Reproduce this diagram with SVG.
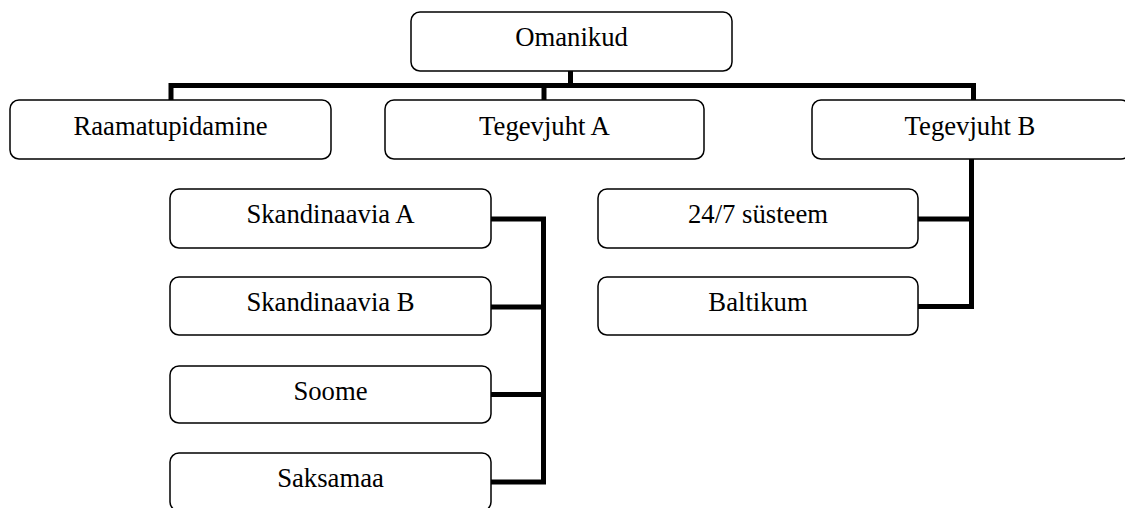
<svg xmlns="http://www.w3.org/2000/svg" width="1125" height="508" viewBox="0 0 1125 508">
<style>
.box{fill:#fff;stroke:#000;stroke-width:1.5}
.lbl{font-family:"Liberation Serif","Times New Roman",serif;font-size:26.7px;fill:#000;text-anchor:middle}
.con{fill:none;stroke:#000;stroke-width:5;stroke-linejoin:miter;stroke-linecap:butt}
</style>
<rect width="1125" height="508" fill="#fff"/>
<g id="connectors">
<path class="con" d="M570.5 71V85.5"/>
<path class="con" d="M171 100V85.5H973.5V100"/>
<path class="con" d="M544 85.5V100"/>
<path class="con" d="M491 219H543.5V482H491"/>
<path class="con" d="M491 307H543.5"/>
<path class="con" d="M491 394.5H543.5"/>
<path class="con" d="M971.5 159V306.5H918"/>
<path class="con" d="M918 219H971.5"/>
</g>
<g id="omanikud"><rect class="box" x="411" y="12" width="321" height="59" rx="9"/><text class="lbl" x="571.5" y="45.5">Omanikud</text></g>
<g id="raamatupidamine"><rect class="box" x="10" y="100" width="321" height="59" rx="9"/><text class="lbl" x="170.5" y="134.5">Raamatupidamine</text></g>
<g id="tegevjuht-a"><rect class="box" x="385" y="100" width="319" height="59" rx="9"/><text class="lbl" x="544.5" y="134.5">Tegevjuht A</text></g>
<g id="tegevjuht-b"><rect class="box" x="812" y="100" width="318" height="59" rx="9"/><text class="lbl" x="970" y="134.5">Tegevjuht B</text></g>
<g id="skandinaavia-a"><rect class="box" x="170" y="189" width="321" height="59" rx="9"/><text class="lbl" x="330.5" y="223">Skandinaavia A</text></g>
<g id="skandinaavia-b"><rect class="box" x="170" y="277" width="321" height="58" rx="9"/><text class="lbl" x="330.5" y="311">Skandinaavia B</text></g>
<g id="soome"><rect class="box" x="170" y="366" width="321" height="57" rx="9"/><text class="lbl" x="330.5" y="399.5">Soome</text></g>
<g id="saksamaa"><rect class="box" x="170" y="453" width="321" height="58" rx="9"/><text class="lbl" x="330.5" y="487">Saksamaa</text></g>
<g id="susteem"><rect class="box" x="598" y="189" width="320" height="59" rx="9"/><text class="lbl" x="758" y="223">24/7 süsteem</text></g>
<g id="baltikum"><rect class="box" x="598" y="277" width="320" height="58" rx="9"/><text class="lbl" x="758" y="311">Baltikum</text></g>
</svg>
